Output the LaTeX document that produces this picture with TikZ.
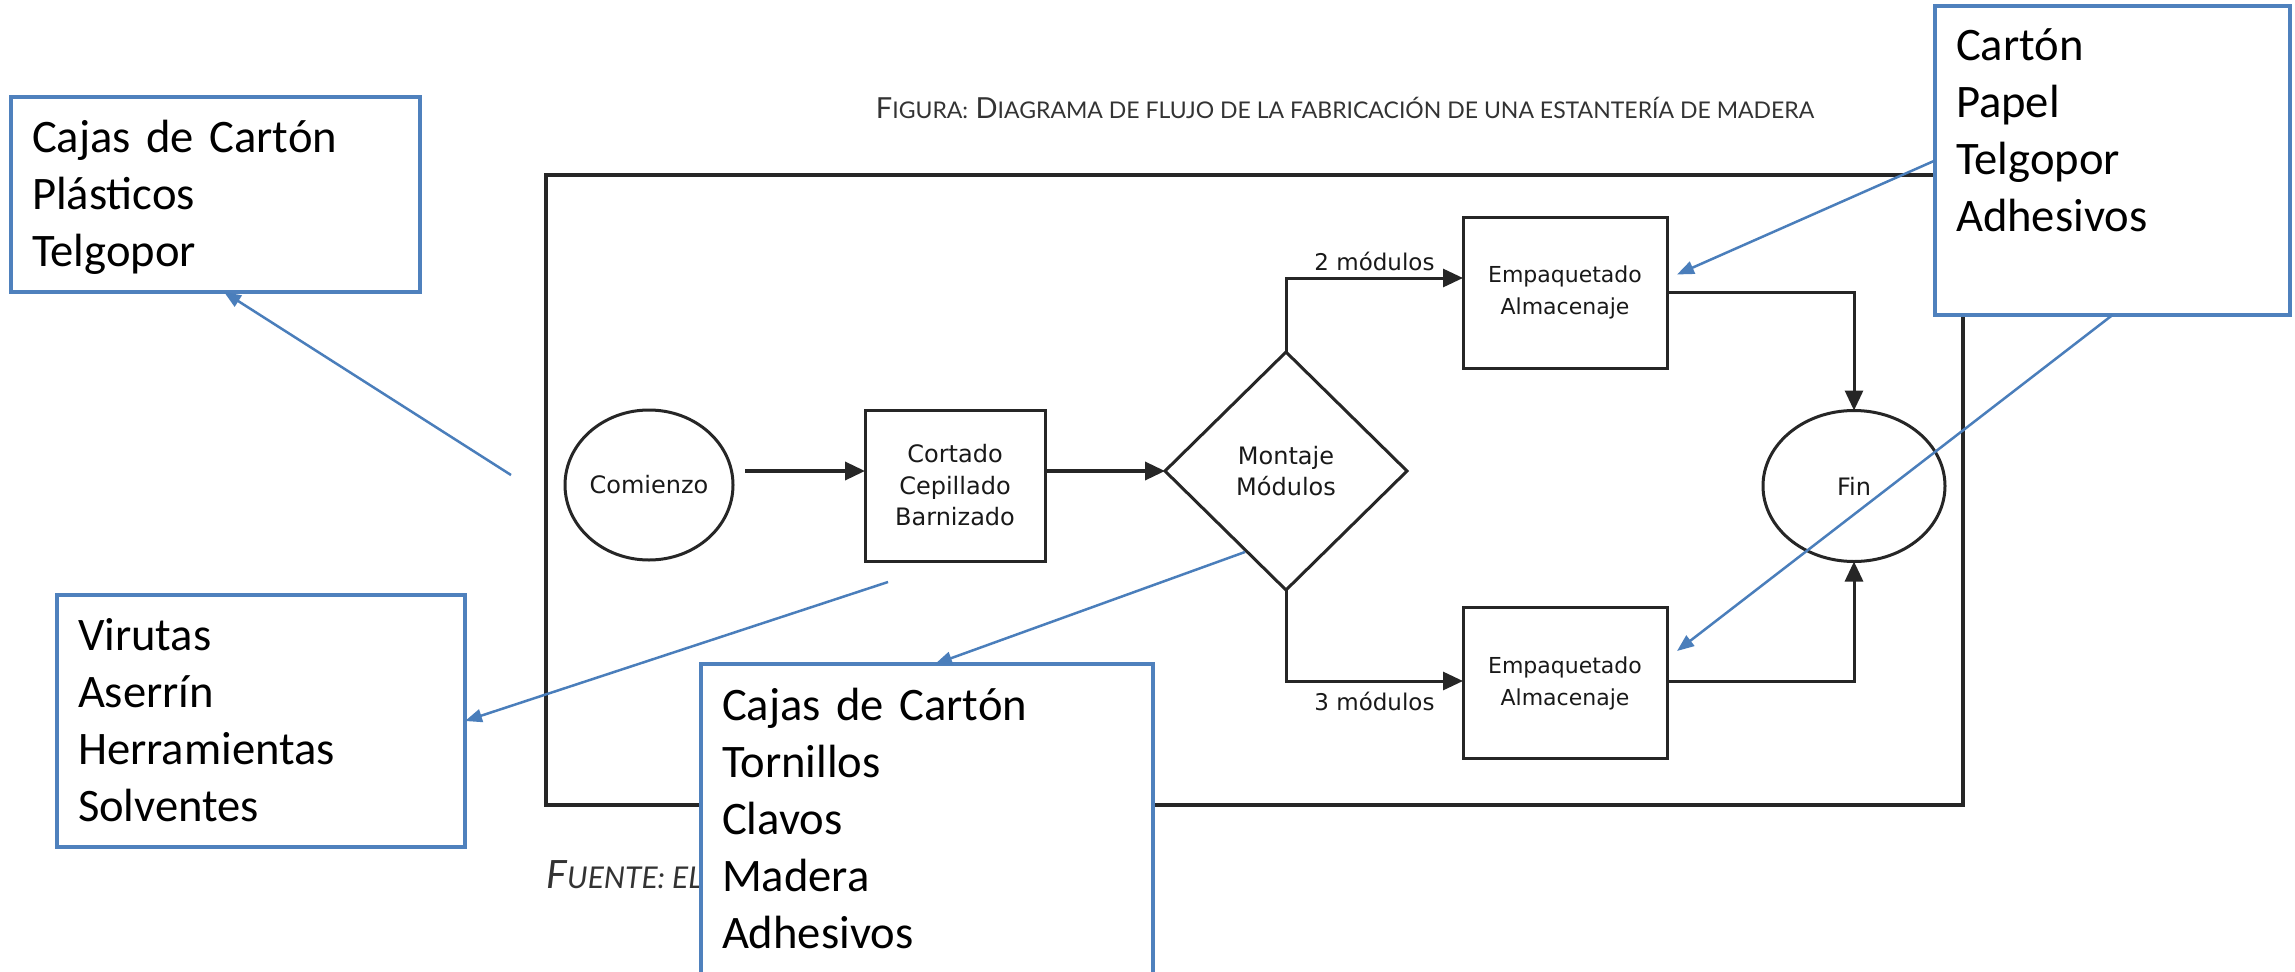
\documentclass[tikz,border=0pt]{standalone}
\usepackage{fontspec}
\setmainfont{Carlito}
\newfontfamily\letraflujo{DejaVu Sans}
\newfontfamily\letratitulo{Lato}
\usetikzlibrary{shapes.geometric, arrows.meta}
\definecolor{azul}{HTML}{4F81BD}
\definecolor{azulflecha}{HTML}{4A7EBB}
\newcommand{\versal}[1]{{\fontsize{23}{23}\selectfont #1}}
\newcommand{\versalit}[1]{{\fontsize{30}{30}\selectfont #1}}

\begin{document}
\begin{tikzpicture}[x=1pt, y=-1pt,
    base/.style={draw=black!85, line width=3pt, inner sep=0pt, outer sep=0pt, align=center,
        text=black!90, font=\letraflujo\fontsize{24}{31.5}\selectfont},
    extremo/.style={base, ellipse},
    proceso/.style={base, rectangle},
    decision/.style={base, diamond},
    flecha/.style={line width=3.5pt, draw=black!85, -{Triangle[length=20pt, width=18pt]}},
    linea/.style={line width=3pt, draw=black!85, -{Triangle[length=20pt, width=18pt]}},
    etiqueta/.style={font=\letraflujo\fontsize{23}{23}\selectfont, text=black!90},
    nota/.style={draw=azul, line width=4.5pt, fill=white, rectangle, anchor=north west,
        inner xsep=21pt, inner ysep=0pt, outer sep=0pt, align=left,
        font=\fontsize{46.6}{57}\selectfont},
    flechanota/.style={draw=azulflecha, line width=2.5pt, -{Triangle[length=17pt, width=13pt]}}]

    % Tamaño de la figura
    \useasboundingbox (0,0) rectangle (2295,972);
    \clip (0,0) rectangle (2295,972);
    \fill[white] (0,0) rectangle (2295,972);

    % Título, marco y fuente
    \node[font=\letratitulo, text=black!80, anchor=base] (titulo) at (1345,118)
        {\fontsize{29}{29}\selectfont F\versal{IGURA:} D\versal{IAGRAMA DE FLUJO DE LA FABRICACIÓN DE UNA ESTANTERÍA DE MADERA}};
    \draw[line width=4pt, black!85] (546,175) rectangle (1963,805);
    \node[font=\letratitulo\itshape, text=black!80, anchor=base west] (fuente) at (543,888)
        {\fontsize{39}{39}\selectfont F\versalit{UENTE: ELA}};

    % Diagrama de flujo
    \node[extremo, minimum width=168pt, minimum height=150pt] (comienzo) at (649,485) {Comienzo};
    \node[proceso, minimum width=180pt, minimum height=151pt] (cortado) at (955,485.5) {Cortado\\Cepillado\\Barnizado};
    \node[decision, minimum width=242pt, minimum height=238pt] (montaje) at (1286,471) {Montaje\\Módulos};
    \node[proceso, minimum width=204pt, minimum height=151pt, font=\letraflujo\fontsize{22}{32}\selectfont] (empaque1) at (1565,292.5) {Empaquetado\\Almacenaje};
    \node[proceso, minimum width=204pt, minimum height=151pt, font=\letraflujo\fontsize{22}{32}\selectfont] (empaque2) at (1565,683) {Empaquetado\\Almacenaje};
    \node[extremo, minimum width=182pt, minimum height=151pt] (fin) at (1854,486) {Fin};

    \draw[flecha] ([xshift=12pt, yshift=14pt]comienzo.east) -- ([yshift=14.5pt]cortado.west);
    \draw[flecha] ([yshift=14.5pt]cortado.east) -- (montaje.west);
    \draw[linea] (montaje.north) |- ([yshift=14.5pt]empaque1.west)
        node[etiqueta, pos=0.75, above=2pt] {2 módulos};
    \draw[linea] (montaje.south) |- ([yshift=2pt]empaque2.west)
        node[etiqueta, pos=0.75, below=6pt] {3 módulos};
    \draw[linea] (empaque1.east) -| (fin.north);
    \draw[linea] ([yshift=2pt]empaque2.east) -| (fin.south);

    % Notas
    \node[nota, text width=367pt, text height=55pt, text depth=140pt] (cajas) at (11,97)
        {Cajas de Cartón\\Plásticos\\Telgopor};
    \node[nota, text width=366pt, text height=55pt, text depth=197pt] (virutas) at (57,595)
        {Virutas\\Aserrín\\Herramientas\\Solventes};
    \node[nota, text width=410pt, text height=56pt, text depth=300pt] (insumos) at (701,664)
        {Cajas de Cartón\\Tornillos\\Clavos\\Madera\\Adhesivos};
    \node[nota, text width=313pt, text height=54pt, text depth=255pt] (carton) at (1935,6)
        {Cartón\\Papel\\Telgopor\\Adhesivos};

    \coordinate (p1) at (511,475);
    \coordinate (p2) at (888,582);
    \coordinate (p3) at (1245,552);
    \draw[flechanota] (p1) -- ([xshift=213pt]cajas.south west);
    \draw[flechanota] (p2) -- (virutas.east);
    \draw[flechanota] (p3) -- ([xshift=8pt]insumos.north);
    \draw[flechanota] (carton.west) -- ([xshift=10pt, yshift=18pt]empaque1.east);
    \draw[flechanota] (carton.south) -- ([xshift=10pt, yshift=32pt]empaque2.east);
\end{tikzpicture}
\end{document}
